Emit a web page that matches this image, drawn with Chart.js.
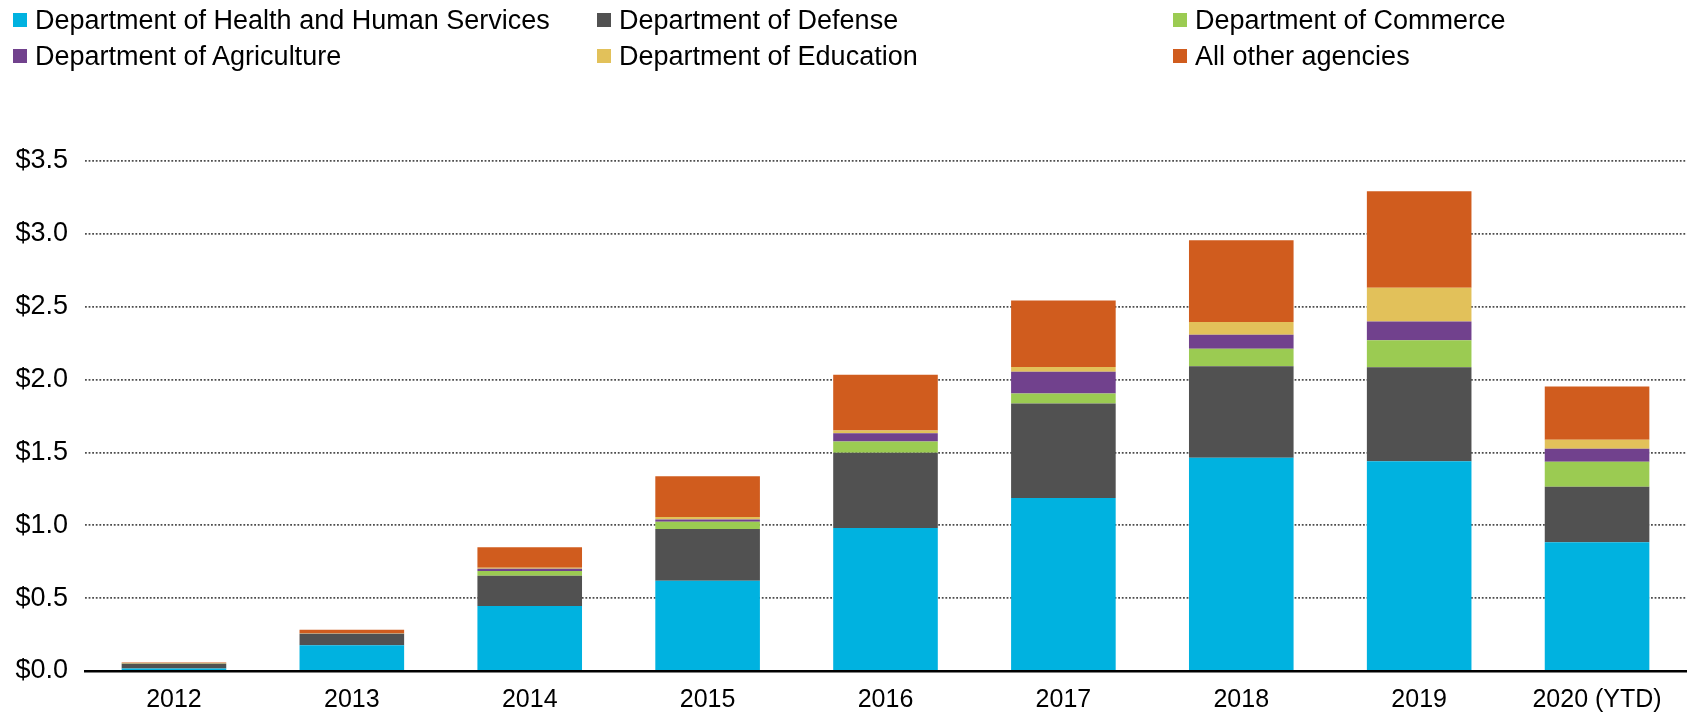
<!DOCTYPE html>
<html>
<head>
<meta charset="utf-8">
<script src="https://cdn.jsdelivr.net/npm/chart.js@4"></script>
<style>
    body { margin: 0; background: #fff; }
    #wrap { position: relative; width: 1688px; height: 717px; }
    #legend { position: absolute; left: 0; top: 0; }
    .item {
        position: absolute; display: flex; align-items: center;
        font: 27px 'Liberation Sans', Arial, sans-serif; color: #000;
        line-height: 30px; white-space: nowrap;
    }
    .box { width: 14px; height: 14px; margin-right: 8px; }
</style>
</head>
<body>
<div id="wrap">
    <canvas id="chart" width="1688" height="717"></canvas>
    <div id="legend"></div>
</div>
<script>
// Années
const years = ['2012', '2013', '2014', '2015', '2016', '2017', '2018', '2019', '2020 (YTD)'];

// Valeurs par agence (milliards $)
const hhs         = [0.018, 0.176, 0.446, 0.620, 0.981, 1.188, 1.463, 1.440, 0.884];
const defense     = [0.032, 0.078, 0.207, 0.355, 0.516, 0.648, 0.628, 0.644, 0.380];
const commerce    = [0.001, 0.002, 0.034, 0.050, 0.078, 0.069, 0.121, 0.185, 0.172];
const agriculture = [0.001, 0.001, 0.014, 0.014, 0.057, 0.149, 0.096, 0.129, 0.089];
const education   = [0.001, 0.001, 0.008, 0.018, 0.018, 0.032, 0.087, 0.233, 0.062];
const other       = [0.005, 0.025, 0.140, 0.279, 0.383, 0.456, 0.561, 0.662, 0.366];

const yTicks = [0, 0.5, 1.0, 1.5, 2.0, 2.5, 3.0, 3.5];

const font = "'Liberation Sans', Arial, sans-serif";

const datasets = [
    { label: 'Department of Health and Human Services', data: hhs, backgroundColor: '#00B2E0' },
    { label: 'Department of Defense', data: defense, backgroundColor: '#515151' },
    { label: 'Department of Commerce', data: commerce, backgroundColor: '#9BCB52' },
    { label: 'Department of Agriculture', data: agriculture, backgroundColor: '#71418D' },
    { label: 'Department of Education', data: education, backgroundColor: '#E2C15A' },
    { label: 'All other agencies', data: other, backgroundColor: '#D05C1E' }
];

const ctx = document.getElementById('chart').getContext('2d');
new Chart(ctx, {
    type: 'bar',
    data: { labels: years, datasets: datasets },
    options: {
        responsive: false,
        animation: false,
        layout: { padding: { top: 161, right: 2, left: 0, bottom: 0 } },
        datasets: { bar: { categoryPercentage: 1, barPercentage: 0.588, borderWidth: 0 } },
        plugins: {
            legend: { display: false },
            tooltip: { enabled: false }
        },
        scales: {
            x: {
                stacked: true,
                grid: { display: false, drawTicks: false },
                border: { display: true, color: '#000', width: 2.5 },
                ticks: { color: '#000', font: { family: font, size: 25 }, padding: 14 },
                afterFit: (scale) => { scale.height = 46; }
            },
            y: {
                stacked: true,
                min: 0,
                max: 3.5,
                afterBuildTicks: (scale) => { scale.ticks = yTicks.map(v => ({ value: v })); },
                grid: {
                    drawTicks: false,
                    color: (c) => c.tick && c.tick.value === 0 ? 'rgba(0,0,0,0)' : '#4d4d4d',
                    lineWidth: 1.8
                },
                border: { display: false, dash: [1.8, 1.8] },
                ticks: {
                    color: '#000',
                    font: { family: font, size: 27 },
                    padding: 17,
                    callback: (v) => '$' + Number(v).toFixed(1)
                },
                afterFit: (scale) => { scale.width = 85; }
            }
        }
    }
});

// Légende en grille (3 colonnes x 2 lignes)
const cols = [13, 597, 1173];
const rows = [4.5, 41];
const legend = document.getElementById('legend');
datasets.forEach((ds, i) => {
    const item = document.createElement('div');
    item.className = 'item';
    item.style.left = cols[i % 3] + 'px';
    item.style.top = rows[Math.floor(i / 3)] + 'px';
    const box = document.createElement('span');
    box.className = 'box';
    box.style.background = ds.backgroundColor;
    item.appendChild(box);
    item.appendChild(document.createTextNode(ds.label));
    legend.appendChild(item);
});
</script>
</body>
</html>
